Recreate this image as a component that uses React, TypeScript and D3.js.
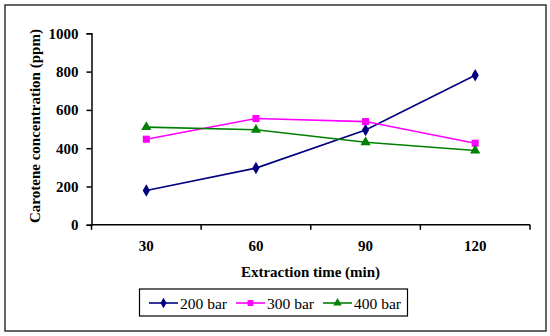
import React, { useEffect, useRef } from 'react';
import * as d3 from 'd3';

const categories = ['30', '60', '90', '120'];
const bar200 = [179, 296, 495, 781];
const bar300 = [447, 555, 539, 426];
const bar400 = [510, 496, 431, 388];
const yTicks = [0, 200, 400, 600, 800, 1000];

const seriesNames = ['200 bar', '300 bar', '400 bar'];
const seriesColors = ['#000080', '#FF00FF', '#008000'];

const W = 550;
const H = 336;

const App = () => {
  const svgRef = useRef<SVGSVGElement>(null);

  useEffect(() => {
    const svg = d3.select(svgRef.current);
    svg.selectAll('*').remove();

    const font = '"Liberation Serif", "DejaVu Serif", serif';
    const left = 91.5, right = 530, top = 33.3, bottom = 224.8;

    const x = d3.scaleBand().domain(categories).range([left, right]);
    const y = d3.scaleLinear().domain([0, 1000]).range([bottom, top]);

    // outer frame
    svg.append('rect')
      .attr('x', 5).attr('y', 5).attr('width', 541).attr('height', 326)
      .attr('fill', '#fff').attr('stroke', '#333').attr('stroke-width', 1.5);

    // y axis
    const yAxis = svg.append('g')
      .attr('transform', `translate(${left},0)`)
      .call(d3.axisLeft(y).tickValues(yTicks).tickSize(5).tickPadding(8).tickFormat(d3.format('d')));
    yAxis.select('.domain').attr('stroke', '#000').attr('stroke-width', 1.5);
    yAxis.selectAll('.tick line').attr('stroke', '#000').attr('stroke-width', 1.5);
    yAxis.selectAll('text')
      .attr('font-family', font).attr('font-size', 15).attr('font-weight', 'bold').attr('fill', '#000');

    // x axis, ticks sit on the band edges
    const xAxisG = svg.append('g').attr('transform', `translate(0,${bottom})`);
    xAxisG.append('line')
      .attr('x1', left).attr('x2', right).attr('stroke', '#000').attr('stroke-width', 1.5);
    const bounds = categories.map(c => x(c)!).concat([right]);
    xAxisG.selectAll('line.tk').data(bounds).enter().append('line')
      .attr('class', 'tk')
      .attr('x1', d => d).attr('x2', d => d).attr('y1', 0).attr('y2', 5)
      .attr('stroke', '#000').attr('stroke-width', 1.5);
    xAxisG.selectAll('text').data(categories).enter().append('text')
      .attr('x', d => x(d)! + x.bandwidth() / 2)
      .attr('y', 26.5)
      .attr('text-anchor', 'middle')
      .attr('font-family', font).attr('font-size', 15).attr('font-weight', 'bold')
      .text(d => d);

    // axis titles
    svg.append('text')
      .attr('transform', `translate(40,${(top + bottom) / 2 - 3}) rotate(-90)`)
      .attr('text-anchor', 'middle')
      .attr('font-family', font).attr('font-size', 15).attr('font-weight', 'bold')
      .text('Carotene concentration (ppm)');
    svg.append('text')
      .attr('x', 310.5).attr('y', 277)
      .attr('text-anchor', 'middle')
      .attr('font-family', font).attr('font-size', 15).attr('font-weight', 'bold')
      .text('Extraction time (min)');

    const allSeries = [bar200, bar300, bar400];
    const cx = (i: number) => x(categories[i])! + x.bandwidth() / 2;
    const line = d3.line<number>().x((_, i) => cx(i)).y(d => y(d));
    const symbols = [d3.symbolDiamond, d3.symbolSquare, d3.symbolTriangle];
    const sizes = [45, 50, 45];

    allSeries.forEach((vals, si) => {
      svg.append('path')
        .datum(vals)
        .attr('d', line)
        .attr('fill', 'none')
        .attr('stroke', seriesColors[si])
        .attr('stroke-width', 1.6);
      svg.selectAll(`path.m${si}`).data(vals).enter().append('path')
        .attr('class', `m${si}`)
        .attr('transform', (d, i) => `translate(${cx(i)},${y(d)})`)
        .attr('d', d3.symbol().type(symbols[si]).size(sizes[si])())
        .attr('fill', seriesColors[si]);
    });

    // legend
    const lg = svg.append('g');
    lg.append('rect')
      .attr('x', 139.5).attr('y', 289).attr('width', 268).attr('height', 27)
      .attr('fill', '#fff').attr('stroke', '#000').attr('stroke-width', 1.2);
    const itemX = [149, 236, 323];
    seriesNames.forEach((name, si) => {
      const x0 = itemX[si];
      lg.append('line')
        .attr('x1', x0).attr('x2', x0 + 29).attr('y1', 303).attr('y2', 303)
        .attr('stroke', seriesColors[si]).attr('stroke-width', 1.6);
      lg.append('path')
        .attr('transform', `translate(${x0 + 14.5},303)`)
        .attr('d', d3.symbol().type(symbols[si]).size(sizes[si] * 0.7)())
        .attr('fill', seriesColors[si]);
      lg.append('text')
        .attr('x', x0 + 31).attr('y', 308.5)
        .attr('font-family', font).attr('font-size', 15.5)
        .text(name);
    });
  }, []);

  return (
    <svg ref={svgRef} width={W} height={H}
      style={{ position: 'absolute', left: 0, top: 0, background: '#fff' }} />
  );
};

export default App;
